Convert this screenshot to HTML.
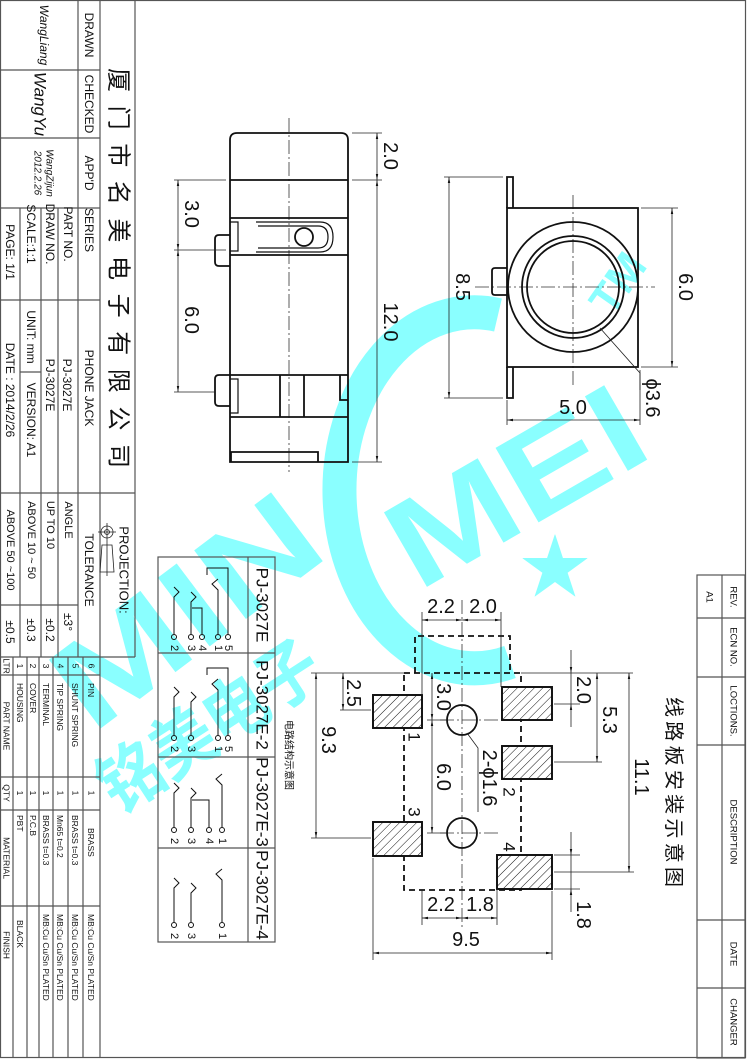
<!DOCTYPE html>
<html><head><meta charset="utf-8"><style>
html,body{margin:0;padding:0;background:#fff;}
svg{display:block;}
text{font-family:"Liberation Sans","Noto Sans CJK SC",sans-serif;fill:#111;}
.r{text-anchor:middle;dominant-baseline:central;}
.tb{stroke:#555;stroke-width:1.2;fill:none;}
.p{stroke:#111;stroke-width:1.8;fill:none;}
.d{stroke:#222;stroke-width:0.8;fill:none;}
.cl{stroke:#333;stroke-width:0.8;fill:none;stroke-dasharray:14 3 2 3;}
.ds{stroke:#111;stroke-width:1.8;fill:none;stroke-dasharray:6 4;}
.wm{fill:#8affff;font-weight:bold;}
</style></head><body>
<svg width="747" height="1060" viewBox="0 0 747 1060" xmlns="http://www.w3.org/2000/svg">
<defs>
<marker id="a" viewBox="0 0 10 10" refX="10" refY="5" markerWidth="12" markerHeight="6" orient="auto-start-reverse" markerUnits="userSpaceOnUse"><path d="M0,3 L10,5 L0,7 Z" fill="#111"/></marker>
<pattern id="h" width="6" height="6" patternUnits="userSpaceOnUse" patternTransform="rotate(45)"><line x1="0" y1="0" x2="0" y2="6" stroke="#111" stroke-width="1"/></pattern>
</defs>

<!-- watermark -->
<path d="M498,315 A135,178 0 1,0 510,662" stroke="#8affff" stroke-width="34" fill="none"/>
<text class="wm" font-size="125" transform="translate(418,592) rotate(-30)" textLength="275" lengthAdjust="spacingAndGlyphs">MEI</text>
<text class="wm" font-size="125" transform="translate(92,735) rotate(-37)" textLength="300" lengthAdjust="spacingAndGlyphs">MIN</text>
<text class="wm" font-size="70" transform="translate(118,815) rotate(-33)" textLength="250" lengthAdjust="spacingAndGlyphs">铭美电子</text>
<text class="wm" font-size="70" x="520" y="592">★</text>
<text class="wm" font-size="44" transform="translate(612,318) rotate(-55)">TM</text>

<!-- outer frame -->
<rect x="0.5" y="0.5" width="745" height="1057" class="tb"/>

<!-- title block lines -->
<g class="tb">
<line x1="135" y1="0" x2="135" y2="657"/>
<line x1="0" y1="657" x2="135" y2="657"/>
<line x1="100" y1="0" x2="100" y2="1058"/>
<line x1="78" y1="0" x2="78" y2="657"/>
<line x1="20" y1="208" x2="20" y2="657"/>
<line x1="41" y1="208" x2="41" y2="657"/>
<line x1="58" y1="208" x2="58" y2="657"/>
<line x1="0" y1="70" x2="100" y2="70"/>
<line x1="0" y1="138" x2="100" y2="138"/>
<line x1="0" y1="208" x2="100" y2="208"/>
<line x1="0" y1="300" x2="100" y2="300"/>
<line x1="0" y1="493" x2="135" y2="493"/>
<line x1="0" y1="605" x2="78" y2="605"/>
<line x1="20" y1="372" x2="41" y2="372"/>
<!-- parts list -->
<line x1="13" y1="657" x2="13" y2="1058"/>
<line x1="27" y1="657" x2="27" y2="1058"/>
<line x1="39" y1="657" x2="39" y2="1058"/>
<line x1="53" y1="657" x2="53" y2="1058"/>
<line x1="68" y1="657" x2="68" y2="1058"/>
<line x1="83" y1="657" x2="83" y2="1058"/>
<line x1="0" y1="675" x2="100" y2="675"/>
<line x1="0" y1="777" x2="100" y2="777"/>
<line x1="0" y1="810" x2="100" y2="810"/>
<line x1="0" y1="906" x2="100" y2="906"/>
<!-- revision block -->
<rect x="697" y="575" width="48" height="483"/>
<line x1="722" y1="575" x2="722" y2="1058"/>
<line x1="697" y1="618" x2="745" y2="618"/>
<line x1="697" y1="677" x2="745" y2="677"/>
<line x1="697" y1="745" x2="745" y2="745"/>
<line x1="697" y1="920" x2="745" y2="920"/>
<line x1="697" y1="988" x2="745" y2="988"/>
</g>

<!-- title block text -->
<g font-size="12">
<text class="r" transform="translate(89,35) rotate(90)">DRAWN</text>
<text class="r" transform="translate(89,104) rotate(90)">CHECKED</text>
<text class="r" transform="translate(89,173) rotate(90)">APP'D</text>
<text class="r" font-size="24" transform="translate(118,268) rotate(90)" textLength="400" lengthAdjust="spacing">厦门市名美电子有限公司</text>
<text class="r" transform="translate(89,230) rotate(90)">SERIES</text>
<text class="r" transform="translate(68,234) rotate(90)">PART  NO.</text>
<text class="r" transform="translate(50,234) rotate(90)">DRAW NO.</text>
<text class="r" transform="translate(31,234) rotate(90)">SCALE:1:1</text>
<text class="r" transform="translate(10,252) rotate(90)">PAGE:  1/1</text>
<text class="r" transform="translate(89,388) rotate(90)">PHONE JACK</text>
<text class="r" transform="translate(67,385) rotate(90)">PJ-3027E</text>
<text class="r" transform="translate(50,385) rotate(90)">PJ-3027E</text>
<text class="r" transform="translate(31,337) rotate(90)">UNIT: mm</text>
<text class="r" transform="translate(31,420) rotate(90)">VERSION: A1</text>
<text class="r" transform="translate(10,390) rotate(90)">DATE : 2014/2/26</text>
<text class="r" font-size="13" transform="translate(124,570) rotate(90)">PROJECTION:</text>
<text class="r" transform="translate(89,570) rotate(90)">TOLERANCE</text>
<text class="r" font-size="11" transform="translate(68,520) rotate(90)">ANGLE</text>
<text class="r" font-size="11" transform="translate(50,525) rotate(90)">UP TO 10</text>
<text class="r" font-size="11" transform="translate(31,540) rotate(90)">ABOVE 10 ~ 50</text>
<text class="r" font-size="11" transform="translate(10,550) rotate(90)">ABOVE 50 ~100</text>
<text class="r" transform="translate(68,622) rotate(90)">±3°</text>
<text class="r" transform="translate(50,630) rotate(90)">±0.2</text>
<text class="r" transform="translate(31,630) rotate(90)">±0.3</text>
<text class="r" transform="translate(10,632) rotate(90)">±0.5</text>
</g>
<!-- projection symbol -->
<g class="d" stroke-width="1">
<circle cx="107" cy="532" r="6"/><circle cx="107" cy="532" r="2.5"/>
<line x1="98" y1="532" x2="116" y2="532"/><line x1="107" y1="523" x2="107" y2="541"/>
<path d="M102,545 L112,545 L114,572 L100,572 Z"/>
<line x1="107" y1="541" x2="107" y2="576"/>
</g>
<!-- signatures -->
<g font-family="Liberation Serif" font-style="italic">
<text class="r" font-size="12" transform="translate(44,35) rotate(90)">WangLiang</text>
<text class="r" font-size="17" transform="translate(40,104) rotate(90)">WangYu</text>
<text class="r" font-size="10" transform="translate(49,173) rotate(90)">WangZijun</text>
<text class="r" font-size="10" transform="translate(37,173) rotate(90)">2012.2.26</text>
</g>
<!-- parts list text -->
<g font-size="8.5">
<text class="r" transform="translate(91.5,666) rotate(90)">6</text>
<text class="r" transform="translate(75.5,666) rotate(90)">5</text>
<text class="r" transform="translate(60.5,666) rotate(90)">4</text>
<text class="r" transform="translate(46,666) rotate(90)">3</text>
<text class="r" transform="translate(33,666) rotate(90)">2</text>
<text class="r" transform="translate(20,666) rotate(90)">1</text>
<text class="r" transform="translate(6.5,666) rotate(90)">LTR</text>
<text transform="translate(88,683) rotate(90)">PIN</text>
<text transform="translate(72,683) rotate(90)">SHUNT  SPRING</text>
<text transform="translate(57,683) rotate(90)">TIP  SPRING</text>
<text transform="translate(43,683) rotate(90)">TERMINAL</text>
<text transform="translate(30,683) rotate(90)">COVER</text>
<text transform="translate(17,683) rotate(90)">HOUSING</text>
<text class="r" transform="translate(6.5,726) rotate(90)">PART NAME</text>
<text class="r" transform="translate(91.5,793) rotate(90)">1</text>
<text class="r" transform="translate(75.5,793) rotate(90)">1</text>
<text class="r" transform="translate(60.5,793) rotate(90)">1</text>
<text class="r" transform="translate(46,793) rotate(90)">1</text>
<text class="r" transform="translate(33,793) rotate(90)">1</text>
<text class="r" transform="translate(20,793) rotate(90)">1</text>
<text class="r" transform="translate(6.5,793) rotate(90)">QTY</text>
<text transform="translate(88,828) rotate(90)">BRASS</text>
<text transform="translate(72,815) rotate(90)">BRASS  t=0.3</text>
<text transform="translate(57,815) rotate(90)">Mn65  t=0.2</text>
<text transform="translate(43,815) rotate(90)">BRASS  t=0.3</text>
<text transform="translate(30,815) rotate(90)">P.C.B</text>
<text transform="translate(17,815) rotate(90)">PBT</text>
<text class="r" transform="translate(6.5,858) rotate(90)">MATERIAL</text>
<text transform="translate(88,914) rotate(90)">MB:Cu   Cu/Sn   PLATED</text>
<text transform="translate(72,914) rotate(90)">MB:Cu   Cu/Sn   PLATED</text>
<text transform="translate(57,914) rotate(90)">MB:Cu   Cu/Sn   PLATED</text>
<text transform="translate(43,914) rotate(90)">MB:Cu   Cu/Sn   PLATED</text>
<text transform="translate(17,920) rotate(90)">BLACK</text>
<text class="r" transform="translate(6.5,945) rotate(90)">FINISH</text>
</g>
<!-- revision text -->
<g font-size="9.5">
<text class="r" transform="translate(733,597) rotate(90)">REV.</text>
<text class="r" transform="translate(733,647) rotate(90)">ECN NO.</text>
<text class="r" transform="translate(733,711) rotate(90)">LOCTIONS.</text>
<text class="r" transform="translate(733,832) rotate(90)">DESCRIPTION</text>
<text class="r" transform="translate(733,954) rotate(90)">DATE</text>
<text class="r" transform="translate(733,1022) rotate(90)">CHANGER</text>
<text class="r" transform="translate(709,597) rotate(90)">A1</text>
</g>

<!-- SIDE VIEW -->
<line class="cl" x1="289" y1="118" x2="289" y2="472"/>
<g class="p">
<path d="M230,462 V140 Q230,133 237,133 H341 Q348,133 348,140 V462 Z"/>
<line x1="230" y1="180" x2="348" y2="180"/>
<line x1="230" y1="218" x2="348" y2="218"/>
<line x1="230" y1="255" x2="348" y2="255"/>
<path d="M230,222 H238 V251 H230" stroke-width="1.2"/>
<path d="M256,222 H320 Q333,222 333,237 Q333,252 320,252 H256" stroke-width="1.2"/>
<path d="M258,226 H318 Q328,226 328,237 Q328,248 318,248 H258" stroke-width="1.2"/>
<circle cx="304" cy="237" r="9"/>
<path d="M230,235 H219 Q215,235 215,239 V262 Q215,266 219,266 H230"/>
<line x1="230" y1="375" x2="348" y2="375"/>
<line x1="230" y1="417" x2="348" y2="417"/>
<line x1="280" y1="375" x2="280" y2="417"/>
<line x1="304" y1="375" x2="304" y2="417"/>
<path d="M230,379 H238 V413 H230" stroke-width="1.2"/>
<path d="M340,375 V400 H348"/>
<path d="M230,375 H219 Q215,375 215,379 V402 Q215,406 219,406 H230"/>
<path d="M231,462 V452 H318 V462"/>
</g>
<g class="d">
<line x1="352" y1="133" x2="382" y2="133"/>
<line x1="352" y1="180" x2="382" y2="180"/>
<line x1="352" y1="462" x2="382" y2="462"/>
<line x1="377" y1="133" x2="377" y2="180" marker-start="url(#a)" marker-end="url(#a)"/>
<line x1="377" y1="180" x2="377" y2="462" marker-start="url(#a)" marker-end="url(#a)"/>
<line x1="174" y1="180" x2="226" y2="180"/>
<line x1="174" y1="250" x2="226" y2="250"/>
<line x1="174" y1="392" x2="215" y2="392"/>
<line x1="178" y1="180" x2="178" y2="250" marker-start="url(#a)" marker-end="url(#a)"/>
<line x1="178" y1="250" x2="178" y2="392" marker-start="url(#a)" marker-end="url(#a)"/>
</g>
<g font-size="20">
<text class="r" transform="translate(390,156) rotate(90)">2.0</text>
<text class="r" transform="translate(390,322) rotate(90)">12.0</text>
<text class="r" transform="translate(191,214) rotate(90)">3.0</text>
<text class="r" transform="translate(191,320) rotate(90)">6.0</text>
</g>

<!-- FRONT VIEW -->
<g class="cl"><line x1="475" y1="287" x2="655" y2="287"/><line x1="573" y1="195" x2="573" y2="385"/></g>
<g class="p">
<rect x="507" y="208" width="131" height="159"/>
<path d="M507,208 V177 H513 V208"/>
<path d="M507,367 V398 H513 V367"/>
<path d="M507,268 H495 Q492,268 492,271 V292 Q492,295 495,295 H507"/>
<circle cx="573" cy="287" r="65"/>
<circle cx="573" cy="287" r="51"/>
<circle cx="573" cy="287" r="46"/>
</g>
<g class="d">
<line x1="444" y1="177" x2="503" y2="177"/>
<line x1="444" y1="398" x2="503" y2="398"/>
<line x1="449" y1="177" x2="449" y2="398" marker-start="url(#a)" marker-end="url(#a)"/>
<line x1="641" y1="208" x2="678" y2="208"/>
<line x1="641" y1="367" x2="678" y2="367"/>
<line x1="672" y1="208" x2="672" y2="367" marker-start="url(#a)" marker-end="url(#a)"/>
<line x1="507" y1="400" x2="507" y2="425"/>
<line x1="640" y1="370" x2="640" y2="425"/>
<line x1="507" y1="420" x2="640" y2="420" marker-start="url(#a)" marker-end="url(#a)"/>
<path d="M600,328 L640,373 V390"/>
</g>
<g font-size="20">
<text class="r" transform="translate(462,287) rotate(90)">8.5</text>
<text class="r" transform="translate(685,287) rotate(90)">6.0</text>
<text class="r" x="573" y="408">5.0</text>
<text class="r" transform="translate(652,398) rotate(90)">ϕ3.6</text>
</g>

<!-- SCHEMATIC TABLE -->
<g class="tb">
<rect x="158" y="557" width="117" height="385"/>
<line x1="248" y1="557" x2="248" y2="942"/>
<line x1="158" y1="653" x2="275" y2="653"/>
<line x1="158" y1="757" x2="275" y2="757"/>
<line x1="158" y1="848" x2="275" y2="848"/>
</g>
<g font-size="17">
<text class="r" transform="translate(262,605) rotate(90)">PJ-3027E</text>
<text class="r" transform="translate(262,705) rotate(90)">PJ-3027E-2</text>
<text class="r" transform="translate(262,802) rotate(90)">PJ-3027E-3</text>
<text class="r" transform="translate(262,895) rotate(90)">PJ-3027E-4</text>
</g>
<g stroke="#111" stroke-width="1" fill="none">
<!-- row1 -->
<circle cx="228" cy="637" r="2.5"/><circle cx="218" cy="637" r="2.5"/><circle cx="202" cy="637" r="2.5"/><circle cx="191" cy="637" r="2.5"/><circle cx="174" cy="637" r="2.5"/>
<path d="M228,634 V568 H207 V575"/>
<path d="M218,634 V590 L212,584 L218,579"/>
<path d="M202,634 V608 H192"/>
<path d="M191,634 V602 L196,597 L191,592"/>
<path d="M174,634 V597 L179,592 L174,587"/>
<!-- row2 -->
<circle cx="228" cy="738" r="2.5"/><circle cx="218" cy="738" r="2.5"/><circle cx="191" cy="738" r="2.5"/><circle cx="174" cy="738" r="2.5"/>
<path d="M228,735 V668 H207 V675"/>
<path d="M218,735 V690 L212,684 L218,679"/>
<path d="M191,735 V702 L196,697 L191,692"/>
<path d="M174,735 V697 L179,692 L174,687"/>
<!-- row3 -->
<circle cx="222" cy="830" r="2.5"/><circle cx="209" cy="830" r="2.5"/><circle cx="191" cy="830" r="2.5"/><circle cx="174" cy="830" r="2.5"/>
<path d="M222,827 V785 L216,779 L222,774"/>
<path d="M209,827 V800 H192"/>
<path d="M191,827 V798 L196,793 L191,788"/>
<path d="M174,827 V793 L179,788 L174,783"/>
<!-- row4 -->
<circle cx="222" cy="925" r="2.5"/><circle cx="191" cy="925" r="2.5"/><circle cx="174" cy="925" r="2.5"/>
<path d="M222,922 V880 L216,874 L222,869"/>
<path d="M191,922 V893 L196,888 L191,883"/>
<path d="M174,922 V888 L179,883 L174,878"/>
</g>
<g font-size="11">
<text class="r" transform="translate(228,648) rotate(90)">5</text><text class="r" transform="translate(218,648) rotate(90)">1</text><text class="r" transform="translate(202,648) rotate(90)">4</text><text class="r" transform="translate(191,648) rotate(90)">3</text><text class="r" transform="translate(174,648) rotate(90)">2</text>
<text class="r" transform="translate(228,749) rotate(90)">5</text><text class="r" transform="translate(218,749) rotate(90)">1</text><text class="r" transform="translate(191,749) rotate(90)">3</text><text class="r" transform="translate(174,749) rotate(90)">2</text>
<text class="r" transform="translate(222,841) rotate(90)">1</text><text class="r" transform="translate(209,841) rotate(90)">4</text><text class="r" transform="translate(191,841) rotate(90)">3</text><text class="r" transform="translate(174,841) rotate(90)">2</text>
<text class="r" transform="translate(222,936) rotate(90)">1</text><text class="r" transform="translate(191,936) rotate(90)">3</text><text class="r" transform="translate(174,936) rotate(90)">2</text>
</g>
<text class="r" font-size="10" transform="translate(288,755) rotate(90)">电路结构示意图</text>

<!-- FOOTPRINT -->
<line class="cl" x1="462" y1="600" x2="462" y2="930"/>
<g class="cl"><line x1="440" y1="720" x2="500" y2="720"/><line x1="440" y1="833" x2="500" y2="833"/></g>
<g class="ds">
<path d="M415,673 V636 H510 V673"/>
<rect x="404" y="673" width="117" height="217"/>
</g>
<g stroke="#111" stroke-width="1.8" fill="url(#h)" >
<rect x="373" y="695" width="49" height="33" fill="#fff"/><rect x="373" y="695" width="49" height="33"/>
<rect x="373" y="822" width="49" height="34" fill="#fff"/><rect x="373" y="822" width="49" height="34"/>
<rect x="502" y="687" width="50" height="33" fill="#fff"/><rect x="502" y="687" width="50" height="33"/>
<rect x="502" y="746" width="50" height="33" fill="#fff"/><rect x="502" y="746" width="50" height="33"/>
<rect x="497" y="855" width="55" height="34" fill="#fff"/><rect x="497" y="855" width="55" height="34"/>
</g>
<g class="p"><circle cx="462" cy="720" r="15"/><circle cx="462" cy="833" r="15"/></g>
<g class="d">
<line x1="422" y1="612" x2="422" y2="695"/>
<line x1="501" y1="612" x2="501" y2="687"/>
<line x1="422" y1="620" x2="462" y2="620" marker-start="url(#a)" marker-end="url(#a)"/>
<line x1="462" y1="620" x2="501" y2="620" marker-start="url(#a)" marker-end="url(#a)"/>
<line x1="422" y1="890" x2="422" y2="925"/>
<line x1="497" y1="889" x2="497" y2="925"/>
<line x1="422" y1="918" x2="462" y2="918" marker-start="url(#a)" marker-end="url(#a)"/>
<line x1="462" y1="918" x2="497" y2="918" marker-start="url(#a)" marker-end="url(#a)"/>
<line x1="373" y1="858" x2="373" y2="960"/>
<line x1="552" y1="891" x2="552" y2="960"/>
<line x1="373" y1="953" x2="552" y2="953" marker-start="url(#a)" marker-end="url(#a)"/>
<line x1="311" y1="673" x2="404" y2="673"/>
<line x1="521" y1="673" x2="633" y2="673"/>
<line x1="311" y1="838" x2="371" y2="838"/>
<line x1="316" y1="673" x2="316" y2="838" marker-start="url(#a)" marker-end="url(#a)"/>
<line x1="340" y1="710" x2="371" y2="710"/>
<line x1="343" y1="673" x2="343" y2="710" marker-start="url(#a)" marker-end="url(#a)"/>
<line x1="432" y1="673" x2="432" y2="720" marker-start="url(#a)" marker-end="url(#a)"/>
<line x1="432" y1="720" x2="432" y2="833" marker-start="url(#a)" marker-end="url(#a)"/>
<line x1="427" y1="720" x2="447" y2="720"/>
<line x1="427" y1="833" x2="447" y2="833"/>
<path d="M467,733 L478,748 V812"/>
<line x1="554" y1="704" x2="580" y2="704"/>
<line x1="571" y1="650" x2="571" y2="673" marker-end="url(#a)"/>
<line x1="571" y1="727" x2="571" y2="704" marker-end="url(#a)"/>
<line x1="571" y1="673" x2="571" y2="704"/>
<line x1="554" y1="762" x2="602" y2="762"/>
<line x1="597" y1="673" x2="597" y2="762" marker-start="url(#a)" marker-end="url(#a)"/>
<line x1="554" y1="872" x2="634" y2="872"/>
<line x1="629" y1="673" x2="629" y2="872" marker-start="url(#a)" marker-end="url(#a)"/>
<line x1="554" y1="855" x2="580" y2="855"/>
<line x1="554" y1="889" x2="580" y2="889"/>
<line x1="571" y1="832" x2="571" y2="855" marker-end="url(#a)"/>
<line x1="571" y1="912" x2="571" y2="889" marker-end="url(#a)"/>
<line x1="571" y1="855" x2="571" y2="889"/>
</g>
<g font-size="20">
<text class="r" x="441" y="607">2.2</text>
<text class="r" x="483" y="607">2.0</text>
<text class="r" x="441" y="905">2.2</text>
<text class="r" x="480" y="905">1.8</text>
<text class="r" x="466" y="940">9.5</text>
<text class="r" transform="translate(328,740) rotate(90)">9.3</text>
<text class="r" transform="translate(353,693) rotate(90)">2.5</text>
<text class="r" transform="translate(443,697) rotate(90)">3.0</text>
<text class="r" transform="translate(443,777) rotate(90)">6.0</text>
<text class="r" transform="translate(489,778) rotate(90)">2-ϕ1.6</text>
<text class="r" transform="translate(583,690) rotate(90)">2.0</text>
<text class="r" transform="translate(609,720) rotate(90)">5.3</text>
<text class="r" transform="translate(641,777) rotate(90)">11.1</text>
<text class="r" transform="translate(583,915) rotate(90)">1.8</text>
<text class="r" font-size="17" transform="translate(414,737) rotate(90)">1</text>
<text class="r" font-size="17" transform="translate(414,812) rotate(90)">3</text>
<text class="r" font-size="17" transform="translate(509,792) rotate(90)">2</text>
<text class="r" font-size="17" transform="translate(509,847) rotate(90)">4</text>
</g>
<text class="r" font-size="20" transform="translate(673,792) rotate(90)" textLength="190" lengthAdjust="spacing">线路板安装示意图</text>
</svg>
</body></html>
